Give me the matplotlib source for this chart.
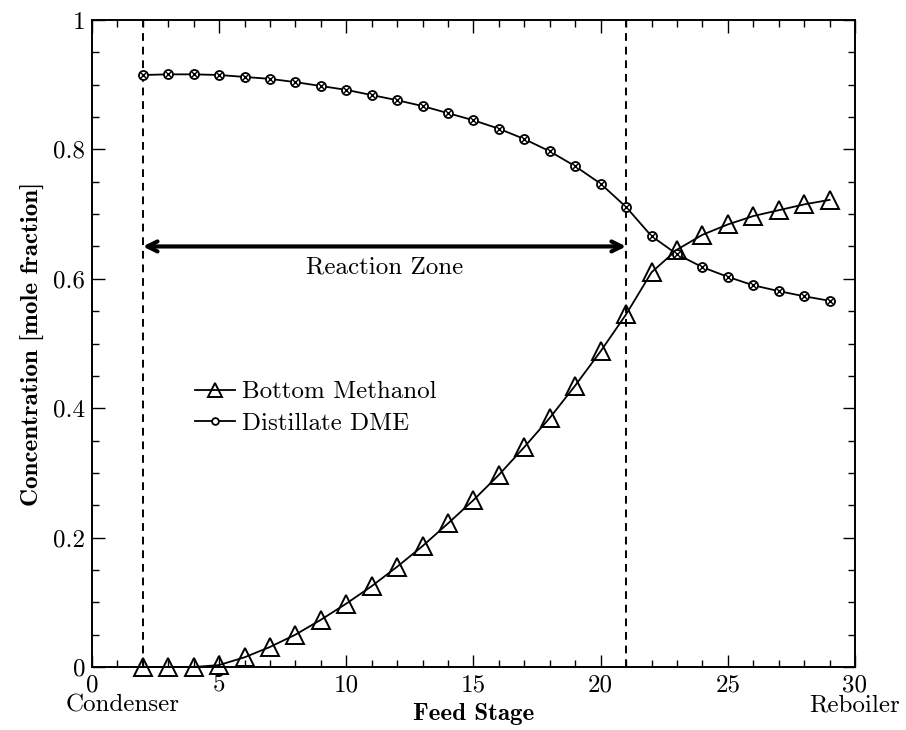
import numpy as np
import matplotlib
matplotlib.use("Agg")
import matplotlib.pyplot as plt
from matplotlib.ticker import MultipleLocator, FuncFormatter

plt.rcParams['font.family'] = 'cmr10'
plt.rcParams['mathtext.fontset'] = 'cm'
plt.rcParams['axes.unicode_minus'] = False

# stages (condenser = 0, reboiler = 30)
stages = list(range(2, 30))

methanol = [0.0, 0.0, 0.0, 0.003, 0.015, 0.031, 0.05, 0.073, 0.098, 0.125,
            0.155, 0.187, 0.222, 0.258, 0.297, 0.34, 0.385, 0.435, 0.488,
            0.545, 0.61, 0.645, 0.668, 0.684, 0.697, 0.706, 0.715, 0.722]

dme = [0.915, 0.916, 0.916, 0.915, 0.912, 0.909, 0.904, 0.898, 0.892, 0.884,
       0.876, 0.867, 0.856, 0.845, 0.832, 0.816, 0.797, 0.774, 0.747, 0.711,
       0.666, 0.638, 0.618, 0.603, 0.590, 0.581, 0.573, 0.566]

zone_start, zone_end = 2, 21
zone_y = 0.65

fs = 18

fig = plt.figure(figsize=(9.06, 7.30), dpi=100)
ax = fig.add_axes([0.1015, 0.0863, 0.8422, 0.8863])

# bottom methanol (open triangles)
l1, = ax.plot(stages, methanol, '-', color='k', lw=1.3, marker='^', ms=13,
              mfc='none', mec='k', mew=1.4, clip_on=False, zorder=3)
# distillate DME (circle with cross)
l2, = ax.plot(stages, dme, '-', color='k', lw=1.3, marker='o', ms=6.5,
              mfc='white', mec='k', mew=1.3, zorder=3)
ax.plot(stages, dme, 'x', color='k', ms=4, mew=1.0, zorder=4)

# reaction zone
for xv in (zone_start, zone_end):
    ax.axvline(xv, color='k', ls='--', lw=1.4, dashes=(4, 3), zorder=2)
ax.annotate('', xy=(zone_end, zone_y), xytext=(zone_start, zone_y),
            arrowprops=dict(arrowstyle='<->', lw=3, color='k',
                            shrinkA=0, shrinkB=0, mutation_scale=18))
ax.text((zone_start + zone_end) / 2, zone_y - 0.033, 'Reaction Zone',
        ha='center', va='center', fontsize=fs)

ax.set_xlim(0, 30)
ax.set_ylim(0, 1)
ax.xaxis.set_major_locator(MultipleLocator(5))
ax.xaxis.set_minor_locator(MultipleLocator(1))
ax.yaxis.set_major_locator(MultipleLocator(0.2))
ax.yaxis.set_minor_locator(MultipleLocator(0.05))
ax.yaxis.set_major_formatter(FuncFormatter(lambda v, p: '%g' % round(v, 2)))
ax.tick_params(which='both', direction='in', top=True, right=True,
               labelsize=fs, width=1.0, pad=5)
ax.tick_params(which='major', length=9)
ax.tick_params(which='minor', length=5)
for s in ax.spines.values():
    s.set_linewidth(1.4)

ax.set_xlabel('Feed Stage', fontsize=fs, family='cmb10', labelpad=5)
ax.set_ylabel('Concentration [mole fraction]', fontsize=fs, family='cmb10',
              labelpad=6)
ax.text(0.04, -0.06, 'Condenser', transform=ax.transAxes, ha='center',
        va='center', fontsize=fs)
ax.text(1.0, -0.06, 'Reboiler', transform=ax.transAxes, ha='center',
        va='center', fontsize=fs)

ax.legend([l1, l2], ['Bottom Methanol', 'Distillate DME'], loc='upper left',
          bbox_to_anchor=(0.106, 0.477), frameon=False, fontsize=fs,
          handlelength=1.6, handletextpad=0.25, labelspacing=0.35,
          markerscale=0.75)

fig.savefig('out.png', dpi=100)
